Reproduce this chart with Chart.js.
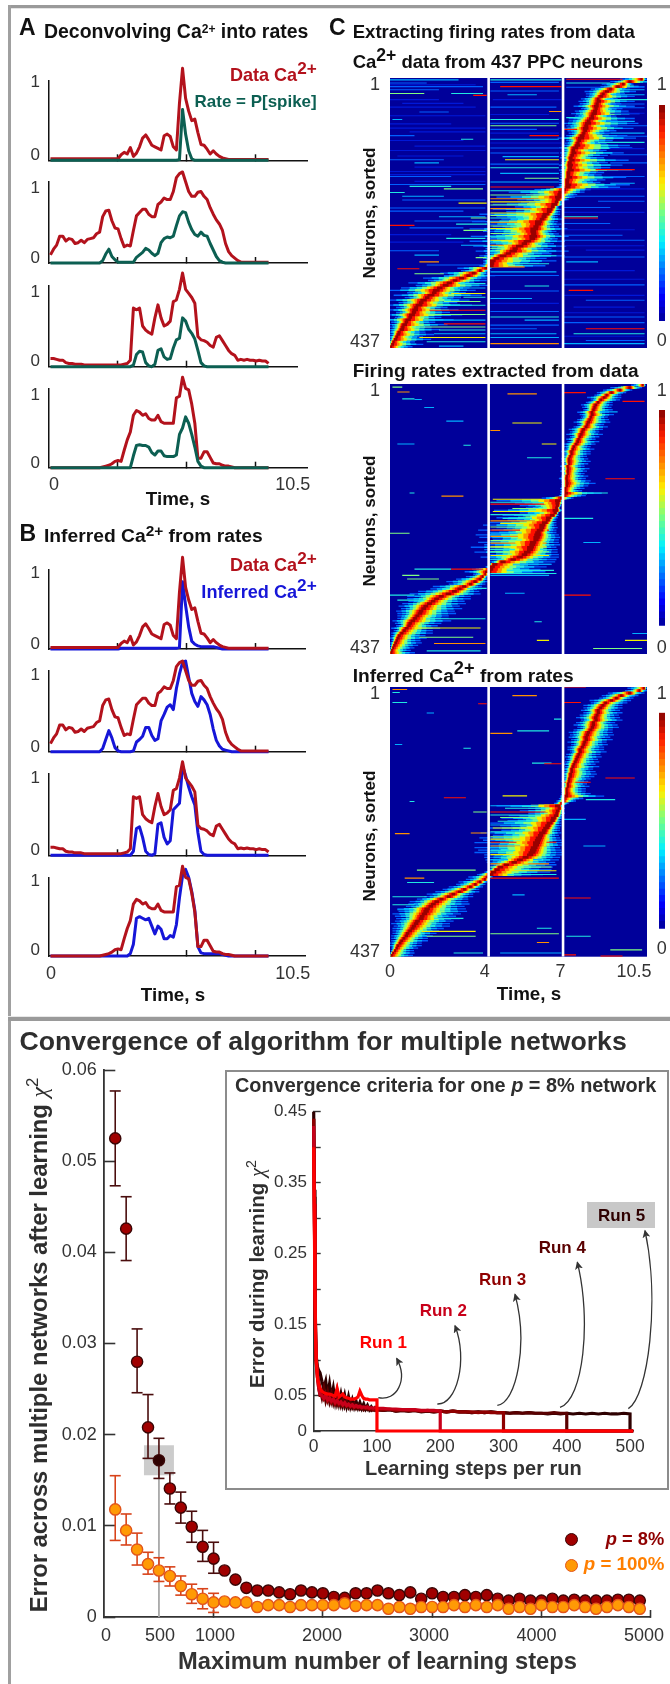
<!DOCTYPE html>
<html><head><meta charset="utf-8">
<style>
html,body{margin:0;padding:0;background:#fff;}
body{width:670px;height:1684px;position:relative;overflow:hidden;font-family:"Liberation Sans",Arial,sans-serif;}
.abs{position:absolute;}
.t{position:absolute;white-space:nowrap;line-height:1.1;z-index:5;}
.t sup{line-height:0;vertical-align:baseline;position:relative;top:-.42em;}
.chi{font-family:"Liberation Serif",serif;font-style:italic;font-weight:normal;}
</style>
<script src="https://cdn.jsdelivr.net/npm/chart.js@4"></script>
</head><body>
<script>
/* ---------- traces, panels A and B ---------- */
const timeS=[0,.125,.25,.375,.5,.625,.75,.875,1,1.125,1.25,1.375,1.5,1.625,1.75,1.875,2,2.125,2.25,2.375,2.5,2.625,2.75,2.875,3,3.125,3.25,3.375,3.5,3.625,3.75,3.875,4,4.125,4.25,4.375,4.5,4.625,4.75,4.875,5,5.125,5.25,5.375,5.5,5.625,5.75,5.875,6,6.125,6.25,6.375,6.5,6.625,6.75,6.875,7,7.125,7.25,7.375,7.5,7.625,7.75,7.875,8,8.125,8.25,8.375,8.5,8.625,8.75,8.875];
const ca1=[.02,.02,.02,.02,.02,.02,.02,.02,.02,.02,.02,.02,.02,.02,.02,.02,.02,.02,.02,.02,.02,.02,.02,.07,.10,.08,.16,.05,.09,.17,.28,.32,.26,.19,.17,.15,.13,.31,.33,.30,.17,.13,.72,1.16,.78,.62,.50,.52,.35,.20,.19,.14,.08,.12,.08,.05,.03,.02,.01,.01,.01,.01,.01,.01,.01,.01,.01,.01,.01,.01,.01,.01];
const ca2=[.10,.17,.22,.33,.33,.27,.30,.29,.24,.25,.28,.25,.29,.30,.31,.36,.38,.57,.64,.65,.52,.43,.42,.30,.20,.22,.21,.40,.58,.62,.66,.66,.60,.57,.57,.72,.75,.80,.78,.78,.88,1.05,1.10,1.12,1.0,.88,.82,.82,.87,.88,.82,.78,.68,.60,.53,.48,.40,.24,.14,.09,.06,.03,.01,.01,.01,.01,.01,.01,.01,.01,.01,.01];
const ca3=[.10,.10,.09,.08,.08,.05,.04,.04,.03,.03,.03,.02,.02,.02,.02,.02,.02,.02,.02,.02,.02,.02,.02,.02,.03,.04,.08,.72,.70,.72,.50,.45,.42,.40,.60,.76,.60,.50,.52,.56,.80,.82,.95,1.15,.95,.90,.85,.78,.37,.33,.32,.30,.26,.24,.36,.38,.32,.26,.20,.16,.14,.08,.09,.08,.09,.08,.08,.07,.08,.07,.07,.04];
const ca4=[0,0,0,0,0,0,0,0,0,0,0,0,0,0,0,0,0,.01,.02,.03,.05,.08,.09,.08,.22,.35,.45,.66,.72,.70,.66,.68,.62,.60,.60,.66,.58,.56,.56,.56,.56,.88,.90,1.14,1.0,.98,.80,.56,.12,.12,.20,.20,.13,.06,.05,.05,.03,.02,.02,.01,0,0,0,0,0,0,0,0,0,0,0,0];
const rate1=[0,0,0,0,0,0,0,0,0,0,0,0,0,0,0,0,0,0,0,0,0,0,0,0,0,0,0,0,0,0,0,0,0,0,0,0,0,0,0,0,0,0,.01,.64,.33,.12,.02,0,0,0,0,0,0,0,0,0,0,0,0,0,0,0,0,0,0,0,0,0,0,0,0,0];
const rate2=[0,0,0,0,0,0,0,0,0,0,0,0,0,0,0,0,0,.03,.11,.17,.08,.04,.01,.01,.01,.01,.01,.01,.07,.1,.13,.18,.16,.12,.09,.12,.25,.30,.32,.31,.33,.46,.58,.63,.62,.50,.41,.35,.33,.38,.34,.33,.24,.16,.08,.03,.01,0,0,0,0,0,0,0,0,0,0,0,0,0,0,0];
const rate3=[0,0,0,0,0,0,0,0,0,0,0,0,0,0,0,0,0,0,0,0,0,0,0,0,0,0,0,.02,.15,.19,.18,.05,.01,0,.03,.20,.22,.12,.09,.10,.23,.33,.35,.60,.56,.46,.41,.34,.20,.05,.01,0,0,0,0,0,0,0,0,0,0,0,0,0,0,0,0,0,0,0,0,0];
const rate4=[0,0,0,0,0,0,0,0,0,0,0,0,0,0,0,0,0,0,0,0,0,0,0,0,0,0,0,.15,.28,.29,.28,.28,.26,.19,.16,.21,.21,.15,.14,.14,.14,.16,.42,.50,.64,.56,.42,.26,.08,.02,0,0,0,0,0,0,0,0,0,0,0,0,0,0,0,0,0,0,0,0,0,0];
const inf1=[0,0,0,0,0,0,0,0,0,0,0,0,0,0,0,0,0,0,0,0,0,0,0,.01,.01,.01,.01,.01,.01,.01,.01,.01,.01,.01,.01,.01,.01,.01,.01,.01,.01,.01,.02,.85,.55,.28,.10,.06,.04,.03,.03,.03,.03,.03,.02,.01,0,0,0,0,0,0,0,0,0,0,0,0,0,0,0,0];
const inf2=[0,0,0,0,0,0,0,0,0,0,0,0,0,0,0,0,0,.04,.15,.26,.17,.05,.01,0,0,0,0,.01,.12,.15,.19,.30,.30,.2,.14,.16,.38,.46,.55,.58,.52,.78,.96,1.10,1.12,.92,.72,.62,.56,.68,.64,.58,.46,.28,.14,.07,.03,.02,.01,0,0,0,0,0,0,0,0,0,0,0,0,0];
const inf3=[0,0,0,0,0,0,0,0,0,0,0,0,0,0,0,0,0,0,0,0,0,0,0,0,0,0,0,.05,.33,.35,.22,.05,.01,0,.02,.38,.40,.22,.14,.18,.56,.60,.64,1.10,.98,.84,.72,.62,.28,.05,.01,0,0,0,0,0,0,0,0,0,0,0,0,0,0,0,0,0,0,0,0,0];
const inf4=[0,0,0,0,0,0,0,0,0,0,0,0,0,0,0,0,0,0,0,0,0,0,0,0,0,0,.03,.15,.48,.50,.48,.46,.48,.38,.28,.38,.34,.22,.22,.26,.24,.40,.74,1.02,1.10,1.00,.82,.58,.12,.04,.03,.03,.03,.03,.03,.03,.02,.01,0,0,0,0,0,0,0,0,0,0,0,0,0,0];

/* ---------- heat maps, panel C: row peaks, left/right spread, streaks ---------- */
const peakC1=[10.3,9.8,9.55,9.3,9.0,8.85,8.7,8.6,8.5,8.5,8.45,8.4,8.4,8.35,8.3,8.25,8.2,8.1,8.05,8.0,7.95,7.95,7.9,7.8,7.75,7.7,7.65,7.6,7.5,7.45,7.45,7.4,7.35,7.35,7.3,7.3,7.3,7.3,7.25,7.25,7.25,7.2,7.2,7.2,7.2,7.1,7.05,6.95,6.95,6.9,6.85,6.8,6.7,6.6,6.55,6.45,6.35,6.25,6.15,6.1,6.0,5.95,5.9,5.9,5.9,5.85,5.65,5.5,5.3,5.1,5.0,4.8,4.55,4.3,4.1,4.1,4.05,3.95,3.7,3.45,3.2,2.95,2.65,2.45,2.25,2.05,1.9,1.8,1.65,1.5,1.35,1.25,1.15,1.05,1.0,.95,.85,.8,.7,.65,.55,.5,.45,.35,.3,.25,.18,.12,.06,.02];
const leftC1=[.9,.8,.9,.7,.8,.9,.7,.6,.7,.8,.7,.9,.6,.8,.9,.7,.9,.8,1.0,.8,.9,.7,.6,.6,.9,.5,.5,.5,.6,.4,.5,.4,.4,.3,.3,.4,.3,.4,.3,.3,.3,.3,.3,.3,.4,1.2,2.2,1.4,2.6,1.7,1.5,2.6,1.6,2.4,1.8,2.8,2.0,1.7,2.8,2.2,1.8,2.7,2.1,1.7,2.6,1.9,2.4,1.5,1.9,1.2,1.5,.9,.9,.5,.3,.3,.4,1.2,.8,1.4,1.0,1.6,1.1,1.7,1.2,1.6,1.9,1.1,1.5,.9,1.4,.9,1.3,.8,1.1,.7,1.0,.6,.9,.6,.6,.5,.5,.4,.3,.3,.2,.2,.1,.1];
const rightC1=[.2,.9,.4,1.1,.8,1.2,.9,1.4,.8,1.5,1.0,1.6,1.1,1.4,1.9,1.0,1.8,1.2,2.1,1.3,2.0,1.3,1.1,1.9,2.3,1.4,1.2,2.2,2.4,1.4,2.1,1.5,1.4,2.4,1.6,2.2,1.7,2.6,1.5,1.4,2.4,1.6,1.4,2.6,2.2,1.1,.9,.7,.6,.4,.2,.3,.2,.4,.4,.5,.5,.8,.7,.9,.9,1.3,.9,1.0,1.4,1.0,1.5,1.2,1.9,1.5,2.3,1.8,2.6,2.1,2.7,2.0,2.3,.2,.4,.6,1.1,1.0,1.3,1.0,1.8,1.2,1.6,1.3,2.1,1.4,1.9,1.5,2.2,1.3,1.8,1.5,2.1,1.3,1.9,1.2,1.8,1.2,1.6,1.1,1.5,1.1,1.5,.9,1.3,.9];
const peakC2=[10.35,9.8,9.4,9.05,8.85,8.75,8.6,8.5,8.4,8.35,8.3,8.25,8.25,8.2,8.15,8.1,8.05,8.0,7.9,7.85,7.8,7.75,7.7,7.65,7.6,7.5,7.45,7.4,7.4,7.35,7.3,7.3,7.3,7.25,7.25,7.25,7.25,7.2,7.2,7.2,7.2,7.2,7.15,7.15,7.15,7.1,7.0,6.95,6.9,6.9,6.85,6.85,6.8,6.7,6.55,6.5,6.4,6.3,6.25,6.2,6.1,6.1,6.05,6.0,5.9,5.85,5.8,5.75,5.65,5.5,5.3,5.0,4.55,4.2,4.1,4.05,3.95,3.9,3.8,3.7,3.5,3.3,3.05,2.85,2.65,2.4,2.1,1.9,1.75,1.6,1.45,1.35,1.25,1.2,1.1,1.0,.9,.8,.75,.65,.55,.45,.35,.3,.25,.2,.15,.1,.05,.02];
const leftC2=[.5,.8,.7,.6,.5,.7,.4,.5,.6,.5,.4,.6,.5,.4,.5,.6,.4,.5,.6,.5,.6,.4,.5,.4,.5,.4,.3,.4,.3,.3,.3,.3,.2,.3,.2,.3,.2,.2,.3,.2,.2,.2,.2,.2,.2,.2,.8,2.6,1.8,1.6,1.3,2.6,1.5,2.1,2.2,1.7,2.4,2.5,1.9,2.6,2.1,2.6,2.4,1.8,2.3,2.0,2.5,1.9,2.2,1.5,1.6,1.0,.5,.2,.2,.7,.9,.5,.7,1.0,1.2,.9,1.3,1.2,1.5,1.6,1.4,1.2,1.0,1.1,1.1,.9,1.0,.9,.8,.7,.8,.6,.5,.6,.4,.4,.3,.3,.2,.2,.15,.1,.05,.02];
const rightC2=[.1,.5,.5,.6,.6,.7,.8,.6,.7,.7,.8,.7,.9,.7,.8,.9,.7,.9,.8,.7,.9,.8,.7,.9,.8,.7,.9,.8,.8,.7,.8,.9,.8,.7,.9,.8,.7,.9,.8,1.0,1.2,.9,.8,.7,1.5,.9,.5,.1,.2,.1,.1,.2,.1,.2,.3,.3,.4,.5,.6,.6,.7,.8,.9,.9,1.0,1.1,1.0,1.1,1.2,1.4,1.6,1.8,2.2,2.4,2.3,2.1,2.4,.2,.2,.3,.5,.6,.7,.9,1.0,1.3,1.2,1.4,1.3,1.5,1.4,1.6,1.4,1.5,1.3,1.4,1.6,1.3,1.2,1.4,1.2,1.3,1.1,1.2,1.0,1.1,1.0,.9,.8,1.0];
const peakC3=[10.4,10.2,9.8,9.45,9.25,9.05,8.8,8.7,8.6,8.5,8.5,8.45,8.4,8.4,8.3,8.3,8.25,8.2,8.1,8.05,8.0,8.0,7.95,7.9,7.85,7.75,7.75,7.7,7.65,7.6,7.55,7.5,7.45,7.4,7.4,7.35,7.35,7.3,7.3,7.25,7.25,7.2,7.2,7.2,7.15,7.1,7.1,7.0,6.95,6.95,6.9,6.85,6.85,6.75,6.7,6.6,6.5,6.45,6.35,6.3,6.2,6.15,6.1,6.05,6.0,5.95,5.9,5.85,5.75,5.55,5.3,5.05,4.7,4.45,4.3,4.15,4.05,4.0,3.9,3.7,3.5,3.3,3.05,2.85,2.6,2.4,2.1,1.9,1.75,1.65,1.5,1.45,1.4,1.3,1.25,1.1,1.05,.95,.9,.8,.7,.65,.55,.45,.4,.3,.25,.18,.1,.04];
const leftC3=[.7,.6,.9,.8,.7,.9,.6,.8,.7,.7,.6,.7,.8,.6,.7,.8,.6,.7,.8,.7,.7,.6,.7,.5,.6,.5,.4,.5,.5,.4,.4,.4,.3,.3,.3,.3,.3,.2,.3,.2,.2,.2,.2,.2,.2,.2,.3,.3,2.6,1.3,1.6,1.2,2.0,2.2,1.9,2.5,2.0,2.4,1.8,2.6,2.0,2.5,2.3,2.6,2.0,2.5,2.3,2.4,1.9,1.7,1.4,1.1,.6,.4,.3,.3,.5,.8,.8,.9,.8,.9,.9,1.0,1.1,1.0,1.0,1.1,1.0,1.0,1.2,1.1,1.3,1.1,1.0,.9,1.0,.8,.8,.7,.6,.6,.5,.4,.4,.3,.2,.15,.1,.03];
const rightC3=[.1,.3,.6,.7,.7,.8,.9,.8,.9,.9,1.0,.9,1.0,1.1,.9,1.0,1.1,.9,1.0,1.1,1.0,1.1,.9,1.0,.9,1.0,1.1,.9,1.0,.9,1.0,.9,1.1,.9,1.0,1.1,1.0,.9,.8,.8,.9,.8,.8,1.0,1.6,.8,.5,.3,.1,.2,.2,.3,.2,.3,.3,.4,.5,.5,.6,.7,.7,.8,.9,1.0,1.1,1.0,1.1,1.2,1.3,1.4,1.6,1.7,2.1,2.2,2.3,2.4,2.2,.2,.2,.3,.4,.5,.6,.8,.8,1.0,1.1,1.3,1.5,1.4,1.6,1.7,1.5,1.4,1.6,1.5,1.4,1.5,1.3,1.2,1.2,1.1,1.0,1.1,.9,1.0,.9,.8,.9,.9];
/* streak = [neuron, from s, to s, colour level] */
const streaksC1=[[4,0,2.8,2],[9,0,1.5,1],[15,0,3.8,1],[26,0,1.4,4],[26,2.5,3.8,3],[29,3.4,3.95,7],[36,0,2,0],[48,0,3.5,0],[56,1.2,2.4,1],[68,.1,.5,2],[82,0,3.9,0],[94,0,1,1],[100,2.9,3.4,3],[111,1,3.9,0],[127,.3,3,0],[138,1,2,2],[152,0,3.9,0],[160,0,2.5,1],[168,1,3.9,0],[176,.8,2.5,3],[180,2.2,3.8,4],[186,0,.6,3],[192,.5,2.2,2],[203,2.8,3.95,5],[211,0,3.9,1],[225,2,3.9,2],[227,3.3,3.95,4],[239,0,1,7],[237,2.7,3.95,3],[247,3,3.95,4],[260,2.3,3.9,3],[271,2.9,3.9,2],[287,1,2,2],[298,1.2,2,6],[291,3.5,3.95,4],[309,.3,1.2,7],[317,1,2.2,4],[333,2.5,3.9,3],[349,2.5,3.9,5],[362,2.2,3.7,4],[376,1.5,3.9,7],[398,2.2,3.9,7],[408,2,3.9,3],[414,1.8,3.9,2],[427,1.5,3.9,3],[434,2,3,2],
[12,0,3.5,0],[20,0,2,1],[42,.5,3,0],[62,0,3.9,0],[75,0,2.5,0],[88,.8,3.9,0],[102,0,3,0],[118,0,3.9,0],[133,0,2.2,1],[145,1,3.9,0],[157,0,3.9,0],[173,0,3.9,1],[198,.5,3.9,1],[216,0,3,1],[232,1,3.9,1],[243,.8,3,1],[254,0,2.5,0],[266,0,3,0],[280,0,2,1],[303,1.5,3.9,1],[322,2.2,3.9,2],[340,2.8,3.9,2],[355,3,3.9,3],[368,1.8,3.9,3],[383,1.5,3.9,4],[392,1,3.9,2],[403,1,3.9,4],[420,1.2,3.9,5],
[4,4.1,7,3],[15,4.5,7,7],[28,4.8,6,2],[36,4.2,7,0],[55,6.5,7,6],[68,4.1,6.9,3],[78,4.1,6.8,4],[84,4.1,6,1],[94,5.7,6.9,7],[106,4.1,7,0],[122,4.1,6.9,1],[133,4.7,6.9,5],[146,4.1,6.9,3],[163,5.5,6.9,4],[177,4.1,6.7,7],[183,4.1,6.8,3],[196,4.1,6.5,6],[206,4.1,6.6,4],[219,4.1,6.5,5],[227,4.1,6.5,3],[234,4.1,6.2,6],[244,4.1,5.8,5],[252,4.1,5.8,4],[263,4.1,5.5,5],[271,4.1,5.3,6],[276,4.1,5.2,4],[288,4.1,6.8,3],[295,4.2,5.4,4],[306,4.1,5.5,6],[314,4.1,6.8,2],[337,5.5,6.5,3],[357,4.1,5.8,2],[387,4.1,6.9,3],[392,5.5,6.9,2],[406,4.1,6,1],[414,4.1,6.8,2],[430,4.1,6.9,6],
[8,4.1,6.9,1],[22,4.1,6.9,1],[48,4.1,6.8,1],[60,4.1,6.5,0],[74,4.1,6.9,1],[90,4.1,6.9,0],[100,4.1,6.9,2],[114,4.1,6.9,1],[128,4.6,6.9,2],[140,4.1,6.9,1],[155,4.5,6.9,2],[169,4.1,6.9,2],[190,4.1,6.8,4],[201,4.1,6.7,5],[212,4.1,6.6,6],[223,4.1,6.6,4],[240,4.1,6.2,4],[258,4.1,6.5,3],[267,4.1,6.3,3],[282,4.1,6.5,2],[301,4.1,6.5,3],[320,4.1,6.9,1],[345,4.1,6.9,1],[365,4.1,6.9,0],[378,4.1,6.9,1],[400,4.1,6.9,1],[420,4.1,6.9,2],
[3,7.2,9.5,7],[9,7.2,9,3],[28,9,10.4,2],[36,8.7,10.5,3],[49,9,10.4,1],[65,7.2,8,3],[71,9,10,2],[84,7.1,8,7],[95,8.7,10.5,1],[105,8.5,10.4,3],[149,8.4,10,7],[138,9,10.5,1],[171,9,10,2],[192,7.1,10.4,1],[200,8.5,10.4,1],[225,7.1,8.5,3],[227,7.1,8.5,7],[246,7.1,10,0],[263,7.1,10.4,1],[279,8,10.4,0],[298,7.2,8.5,2],[326,7.1,10.4,0],[344,7.3,8.3,7],[360,8,10.4,1],[371,7.5,10,0],[387,7.1,10.4,1],[406,8,10.4,7],[414,7.5,10.4,3],[425,8,10.4,1],[430,7.1,10.4,2],
[16,7.2,10.4,1],[20,9.5,10.4,2],[43,9,10.4,1],[58,9,10.4,0],[78,9,10.5,1],[90,9,10.4,2],[115,9,10.4,0],[125,9,10.5,1],[160,9,10.4,1],[180,8,10.4,0],[210,7.1,9,1],[218,7.1,10.4,0],[236,7.1,9,1],[255,7.1,9.5,1],[272,7.1,10.4,0],[290,7.1,10.4,1],[312,7.1,10,0],[335,7.1,10.4,1],[352,7.1,10.4,0],[380,7.1,10.4,0],[396,7.1,10.4,1],[418,7.1,10.4,0]];
const streaksC2=[[6,.1,.5,4],[14,.3,.8,6],[25,.5,1,3],[26,1,1.3,2],[39,1.4,1.8,2],[61,2.3,3,2],[98,.3,1,2],[100,3,3.3,3],[177,.8,1,3],[182,2.1,3,6],[242,0,.8,4],[300,1,2.5,3],[300,2.5,3.95,7],[310,.5,1.2,4],[316,.7,2,4],[331,2.2,3.95,3],[342,0,1,3],[350,.3,1.5,3],[380,1,3.9,3],[395,.8,3.7,5],[410,1.2,3.4,4],[420,1.8,3.9,6],[432,1.5,3.7,3],
[17,4.8,6,6],[64,5,6.2,5],[76,4.1,4.5,6],[98,6.2,6.8,5],[120,5.6,6.6,3],[187,4.2,6.2,5],[195,4.1,6.6,7],[202,5,6.7,4],[218,4.6,6.5,3],[226,4.5,6.2,5],[237,4.1,6.5,7],[247,4.1,6.3,6],[264,4.1,6.4,5],[272,4.1,6.5,4],[307,4.1,6.8,3],[310,4.1,6.5,2],[339,4.7,5.5,2],[385,5.9,6.2,3],[415,6,6.5,5],
[192,4.1,6.6,3],[207,4.2,6.6,5],[212,4.1,6.7,3],[222,4.1,6.5,6],[232,4.1,6.4,4],[242,4.1,6.3,2],[254,4.1,6.3,4],[258,4.1,6.4,6],[268,4.1,6.3,3],[278,4.1,6.5,5],[284,4.1,6.2,3],[292,4.1,6.6,2],[302,4.1,6.7,3],
[15,7.1,8,7],[29,9.5,10.4,7],[46,8.6,9.3,2],[154,8.8,10,7],[177,8,8.9,3],[218,7.1,8.3,3],[257,7.9,8.6,2],[342,7.1,8.2,7],[404,9.9,10.5,2],[428,8.3,10.3,4],[415,9.6,10.5,5]];
const streaksC3=[[5,.1,.7,6],[10,.1,.4,3],[26,.1,.7,3],[28,3.6,3.95,7],[43,1.5,1.8,2],[94,.2,.5,2],[100,3,3.3,3],[180,2.2,3.1,7],[186,.8,1,3],[203,3.4,3.95,4],[237,3.3,3.95,6],[238,.2,.8,6],[297,1.1,3.5,4],[310,.6,1.4,6],[317,.7,1.8,3],[340,.1,1.5,3],[353,.1,1,3],[361,.3,1,2],[375,1.5,3,3],[396,1.3,3.5,5],[404,1.5,3.5,4],[431,2.6,3.8,3],
[15,5,6,6],[76,4.1,5,6],[72,5.2,6.5,3],[53,6.7,7,3],[124,5.8,6.6,3],[125,6.3,7,7],[177,4.6,5.6,5],[197,4.7,6.2,3],[203,4.1,6.8,7],[218,4.4,6.5,3],[229,4.2,6.5,5],[243,4.1,6,4],[252,4.1,6.8,7],[287,4.1,6.5,6],[298,4.2,6.8,5],[310,4.1,6.9,7],[337,5,5.5,2],[391,6,6.6,3],[400,4.1,6.9,4],[414,6,6.5,6],[431,4.5,7,2],
[193,4.1,6.5,2],[208,4.1,6.6,3],[212,4.5,6.7,4],[224,4.1,6.6,2],[235,4.1,6.4,3],[247,4.1,6.5,5],[258,4.1,6.4,6],[266,4.1,6.1,3],[272,4.1,6.2,5],[280,4.1,6.2,2],[292,4.1,6.6,4],[304,4.1,6.8,3],
[1,7.1,8,7],[26,7.1,7.8,7],[148,8.8,10,7],[155,7.1,8.2,7],[183,8,9.2,3],[215,7.1,8,2],[258,7.9,8.8,2],[342,7.1,8.2,7],[404,7.2,8.2,3],[426,9,10.3,4],[434,7.1,7.6,7],[436,8.6,9.5,7]];
const levelColors=['#0018d8','#0060ff','#00b0ff','#20e8e0','#80ff80','#f0f000','#ff9000','#ff1000','#9a0000'];
const bandFractions=[1,.78,.6,.46,.34,.25,.17,.08];
const bandThickness=[1.3,1.6,2.0,2.4,2.7,2.7,2.7,2.7];
const whiteLineTimes=[4.03,7.07];

/* ---------- convergence, main plot ---------- */
const maxSteps=[100,200,300,400,500,600,700,800,900,1000,1100,1200,1300,1400,1500,1600,1700,1800,1900,2000,2100,2200,2300,2400,2500,2600,2700,2800,2900,3000,3100,3200,3300,3400,3500,3600,3700,3800,3900,4000,4100,4200,4300,4400,4500,4600,4700,4800,4900];
const errP8=[.0525,.0426,.0280,.0208,.0172,.0141,.0120,.0099,.0077,.0064,.0051,.0041,.0032,.0029,.0029,.0027,.0025,.0029,.0027,.0026,.0022,.0021,.0026,.0026,.0029,.0026,.0024,.0027,.0020,.0026,.0022,.0022,.0024,.0022,.0024,.0020,.0018,.0020,.0018,.0018,.0020,.0018,.0019,.0018,.0018,.0018,.0019,.0019,.0018];
const errP100=[.0118,.0095,.0074,.0058,.0051,.0045,.0034,.0025,.0020,.0016,.0017,.0016,.0016,.0011,.0013,.0013,.0011,.0013,.0013,.0013,.0013,.0015,.0012,.0013,.0013,.0009,.0011,.0009,.0011,.0011,.0011,.0013,.0011,.0013,.0011,.0013,.0009,.0011,.0009,.0013,.0011,.0011,.0013,.0011,.0009,.0011,.0013,.0011,.0009];
const hiP8=[.0577,.0461,.0316,.0244,.0196,.0158,.0137,.0116,.0095,.0082];
const loP8=[.0473,.0391,.0246,.0174,.0152,.0124,.0103,.0082,.0061,.0048];
const hiP100=[.0155,.0113,.0092,.0071,.0065,.0055,.0045,.0036,.0031,.0026];
const loP100=[.0084,.0079,.0057,.0047,.0039,.0034,.0024,.0015,.0009,.0005];
const mainXTicks=[1000,2000,3000,4000,5000];
const mainXLabels=[['0',15],['500',510],['1000',1013],['2000',1993],['3000',2971],['4000',3955],['5000',4938]];
const mainYTicks=[0,.01,.02,.03,.04,.05,.06];

/* ---------- convergence, inset ---------- */
const runSteps=[0,1,2,3,4,6,8,10,13,16,19,22,25,28,31,34,37,40,43,46,49,52,55,58,61,64,67,70,73,76,79,82,85,88,91,94,97,100,110,120,130,140,150,160,170,180,190,200,210,220,230,240,250,260,270,280,290,300,310,320,330,340,350,360,370,380,390,400,410,420,430,440,450,460,470,480,490,500];
const run1=[.40,.30,.19,.13,.10,.075,.066,.060,.056,.054,.053,.052,.052,.051,.050,.049,.060,.048,.05,.052,.048,.047,.046,.045,.045,.045,.046,.048,.056,.050,.046,.045,.045,.044,.044,.044,.044,.044];
const run2=[.43,.32,.2,.14,.10,.075,.06,.052,.05,.046,.05,.044,.047,.042,.045,.040,.043,.039,.041,.037,.04,.036,.038,.035,.037,.034,.036,.034,.035,.033,.034,.033,.034,.032,.033,.032,.033,.032,.032,.031,.031,.03,.03,.03,.029,.029,.029,.028];
const run3=[.44,.32,.2,.13,.095,.075,.06,.05,.05,.045,.05,.042,.046,.04,.044,.038,.042,.037,.04,.036,.038,.035,.037,.034,.036,.033,.035,.033,.034,.032,.033,.032,.032,.031,.032,.03,.031,.03,.03,.031,.029,.03,.029,.029,.028,.029,.028,.028,.027,.028,.027,.027,.027,.026,.027,.026,.026,.026];
const run4=[.44,.33,.2,.13,.1,.08,.07,.06,.048,.06,.044,.055,.042,.052,.04,.05,.038,.046,.036,.044,.035,.042,.034,.04,.033,.038,.032,.036,.031,.034,.03,.033,.03,.032,.029,.031,.029,.03,.029,.03,.028,.029,.028,.029,.028,.028,.027,.028,.027,.028,.027,.027,.026,.027,.026,.027,.026,.026,.025,.026,.025,.026,.025,.025,.025,.026,.025,.025];
const run5=[.45,.34,.21,.14,.105,.09,.085,.082,.07,.06,.07,.05,.066,.046,.06,.042,.056,.04,.052,.038,.05,.036,.048,.035,.044,.034,.042,.033,.04,.032,.038,.031,.036,.03,.034,.03,.033,.03,.029,.03,.028,.029,.028,.029,.027,.028,.027,.028,.027,.028,.027,.027,.026,.027,.026,.027,.026,.026,.025,.026,.025,.026,.025,.025,.024,.025,.024,.025,.024,.025,.024,.025,.024,.025,.024,.024,.025,.024];
const runColors=['#ff0000','#c8001a','#8f0000','#5a0000','#2e0000'];
const insetXTicks=[0,100,200,300,400,500];
const insetYTicks=[0,.05,.1,.15,.2,.25,.3,.35,.4,.45];

/* ---------- helpers ---------- */
Chart.defaults.font.family='"Liberation Sans",Arial,sans-serif';
Chart.defaults.animation=false;
Chart.defaults.devicePixelRatio=1;
const INK='#333';
function mount(r,pad,cfg){
  const c=document.createElement('canvas');
  const L=Math.floor(r.l-pad.l),T=Math.floor(r.t-pad.t);
  const W=Math.ceil(r.r+pad.r)-L,H=Math.ceil(r.b+pad.b)-T;
  const padL=r.l-L,padT=r.t-T,padR=W-(r.r-L),padB=H-(r.b-T);
  c.width=W;c.height=H;c.className='abs';
  c.style.cssText=`position:absolute;left:${L}px;top:${T}px;width:${W}px;height:${H}px;z-index:${cfg.z||1}`;
  document.body.appendChild(c);
  cfg.options=cfg.options||{};
  Object.assign(cfg.options,{responsive:false,maintainAspectRatio:false,animation:false,
    events:[],layout:{padding:{left:0,bottom:0,top:padT,right:padR}}});
  cfg.options.plugins=Object.assign({legend:{display:false},tooltip:{enabled:false},title:{display:false}},cfg.options.plugins||{});
  const sx=cfg.options.scales.x,sy=cfg.options.scales.y;
  if(sx)sx.afterFit=s=>{s.height=padB};
  if(sy)sy.afterFit=s=>{s.width=padL};
  return new Chart(c,cfg);
}
function text(html,x,y,o={}){
  const d=document.createElement('div');d.className='t';d.innerHTML=html;
  const size=o.size||18;
  d.style.fontSize=size+'px';d.style.color=o.color||'#111';d.style.fontWeight=o.weight||'bold';
  document.body.appendChild(d);
  if(o.w){d.style.fontSize=(size*o.w/d.offsetWidth)+'px';}
  if(o.rot){d.style.left=x+'px';d.style.top=y+'px';d.style.transform='translate(-50%,-50%) rotate(-90deg)';}
  else if(o.anchor==='right'){d.style.right=(670-x)+'px';d.style.top=y+'px';d.style.transform='translateY(-50%)';}
  else if(o.anchor==='center'){d.style.left=x+'px';d.style.top=y+'px';d.style.transform='translate(-50%,-50%)';}
  else{d.style.left=x+'px';d.style.top=y+'px';d.style.transform='translateY(-50%)';}
  return d;
}
function box(l,t,w,h,bg){const d=document.createElement('div');d.className='abs';
  d.style.cssText=`position:absolute;left:${l}px;top:${t}px;width:${w}px;height:${h}px;background:${bg}`;document.body.appendChild(d);return d;}

/* ---------- frame ---------- */
box(8,5,662,3,'#9a9a9a');box(8,5,3,1679,'#a0a0a0');box(11,8,659,1,'#e4e4e4');
box(8,1016,662,1,'#e8e8e8');box(8,1017,662,4,'#9a9a9a');

/* ---------- panels A, B ---------- */
const PXS=24.57;
const panels=[
 {top:81,base:160.3,right:307,one:82,zero:155,first:ca1,over:rate1,overColor:'#0c5f52',overTop:true},
 {top:181.7,base:263,right:307,one:188,zero:258,first:ca2,over:rate2,overColor:'#0c5f52',overTop:true},
 {top:285.3,base:366.7,right:297,one:292,zero:361,first:ca3,over:rate3,overColor:'#0c5f52',overTop:true},
 {top:388.3,base:467.7,right:307,one:395,zero:463,first:ca4,over:rate4,overColor:'#0c5f52',overTop:true,labels:true},
 {top:570,base:649,right:305.7,one:573,zero:644,first:ca1,over:inf1,overColor:'#1616d8'},
 {top:670.7,base:751.7,right:305.7,one:675,zero:747.7,first:ca2,over:inf2,overColor:'#1616d8'},
 {top:774,base:855.3,right:305.7,one:778,zero:850.7,first:ca3,over:inf3,overColor:'#1616d8'},
 {top:877.3,base:956,right:305.7,one:881.7,zero:950.7,first:ca4,over:inf4,overColor:'#1616d8',labels:true,zeroLabel:.08}
];
const timeMarks=[2.8,5.6,8.4];
panels.forEach(p=>{
  const toPts=a=>a.map((v,i)=>({x:timeS[i]+.06,y:v}));
  const labelTicks=p.labels?[{value:p.zeroLabel!==undefined?p.zeroLabel:.2,lab:'0'},{value:9.92,lab:'10.5'}]:[];
  const v=y=>(p.base-y)/(p.base-p.top);
  mount({l:49,t:p.top,r:p.right,b:p.base},{l:30,t:21,r:33,b:34},{type:'scatter',
    data:{datasets:[
      {data:toPts(p.first),showLine:true,pointRadius:0,borderColor:'#b3121c',borderWidth:3,borderJoinStyle:'round',clip:false,order:p.overTop?2:1},
      {data:toPts(p.over),showLine:true,pointRadius:0,borderColor:p.overColor,borderWidth:3,borderJoinStyle:'round',clip:false,order:p.overTop?1:2}
    ]},
    options:{scales:{
      x:{type:'linear',min:0,max:(p.right-49)/PXS,
        afterBuildTicks:s=>{s.ticks=timeMarks.map(value=>({value})).concat(labelTicks.map(t=>({value:t.value})));},
        border:{display:true,color:'#111',width:1.5},
        grid:{drawOnChartArea:false,tickLength:-6,tickWidth:1.5,tickColor:c=>(c.tick&&timeMarks.includes(c.tick.value))?'#111':'rgba(0,0,0,0)'},
        ticks:{autoSkip:false,maxRotation:0,padding:13,color:INK,font:{size:18},
          callback:val=>{const t=labelTicks.find(k=>k.value===val);return t?t.lab:'';}}},
      y:{type:'linear',min:0,max:1,
        afterBuildTicks:s=>{s.ticks=[{value:v(p.zero)},{value:v(p.one)}];},
        border:{display:true,color:'#111',width:1.5},
        grid:{drawOnChartArea:false,drawTicks:false},
        ticks:{autoSkip:false,padding:9,color:INK,font:{size:17},callback:val=>val<.5?'0':'1'}}
    }}});
});

/* ---------- panel C heat maps ---------- */
const heatBg={id:'heatBg',beforeDatasetsDraw(ch){const a=ch.chartArea;ch.ctx.save();ch.ctx.fillStyle='#00009a';ch.ctx.fillRect(a.left,a.top,a.right-a.left,a.bottom-a.top);ch.ctx.restore();}};
function heat(r,peak,left,right,streaks,oneY,botY,withX){
  const nPerPx=436/(r.b-r.t);
  const rows=peak.length;
  const ds=[];
  levelColors.forEach((col,L)=>{
    const pts=[];
    streaks.filter(s=>s[3]===L).forEach(s=>{pts.push({x:s[1],y:s[0]},{x:s[2],y:s[0]},{x:s[2],y:null});});
    if(pts.length)ds.push({data:pts,showLine:true,spanGaps:false,pointRadius:0,borderColor:col,borderWidth:1.1,borderCapStyle:'butt',order:150-L});
  });
  bandFractions.forEach((f,b)=>{
    const pts=[];
    for(let i=0;i<rows;i++){
      const n=1+(i+.5)*436/rows;
      pts.push({x:peak[i]-left[i]*f,y:n},{x:peak[i]+right[i]*f,y:n},{x:peak[i],y:null});
    }
    ds.push({data:pts,showLine:true,spanGaps:false,pointRadius:0,borderColor:levelColors[b+1],borderWidth:bandThickness[b],borderCapStyle:'butt',order:b<4?200-b:100-b});
  });
  whiteLineTimes.forEach(t=>ds.push({data:[{x:t,y:1},{x:t,y:437}],showLine:true,pointRadius:0,borderColor:'#fff',borderWidth:2.6,order:1}));
  const xLab=[{value:0,lab:'0'},{value:3.87,lab:'4'},{value:6.97,lab:'7'},{value:9.97,lab:'10.5'}];
  mount(r,{l:48,t:22,r:24,b:withX?28:22},{type:'scatter',data:{datasets:ds},plugins:[heatBg],
    options:{scales:{
      x:{type:'linear',min:0,max:10.5,display:true,
        afterBuildTicks:s=>{s.ticks=withX?xLab.map(t=>({value:t.value})):[];},
        border:{display:false},grid:{display:false,drawTicks:false},
        ticks:{display:withX,autoSkip:false,maxRotation:0,padding:5,color:INK,font:{size:18},
          callback:val=>{const t=xLab.find(k=>k.value===val);return t?t.lab:'';}}},
      y:{type:'linear',min:1,max:437,reverse:true,
        afterBuildTicks:s=>{s.ticks=[{value:1+(oneY-r.t)*nPerPx},{value:1+(botY-r.t)*nPerPx}];},
        border:{display:false},grid:{display:false,drawTicks:false},
        ticks:{autoSkip:false,padding:10,color:INK,font:{size:18},callback:val=>val<200?'1':'437'}}
    }}});
}
heat({l:390,t:78,r:647,b:348},peakC1,leftC1,rightC1,streaksC1,84.7,341.7,false);
heat({l:390,t:384,r:647,b:654},peakC2,leftC2,rightC2,streaksC2,391,647.7,false);
heat({l:390,t:687,r:647,b:956.7},peakC3,leftC3,rightC3,streaksC3,694,951.7,true);

/* colour bars */
const jetStops=[[0,0,0,154],[.11,0,0,255],[.36,0,240,255],[.5,120,255,130],[.63,255,240,0],[.87,255,30,0],[1,125,0,0]];
const barEdges=[0,.03,.06,.09,.12,.15,.18,.21,.24,.27,.3,.33,.36,.39,.42,.45,.48,.51,.54,.57,.6,.63,.66,.69,.72,.75,.78,.81,.84,.87,.9,.93,.96,1];
function jet(v){let i=0;while(i<jetStops.length-2&&v>jetStops[i+1][0])i++;const a=jetStops[i],b=jetStops[i+1],f=(v-a[0])/(b[0]-a[0]);
  return `rgb(${[1,2,3].map(k=>Math.round(a[k]+(b[k]-a[k])*f)).join(',')})`;}
function colorbar(t,b){
  const ds=barEdges.slice(0,-1).map((e,i)=>({data:[[e,Math.min(1,barEdges[i+1]+.004)]],backgroundColor:jet(e+.015),borderWidth:0,barPercentage:1,categoryPercentage:1,grouped:false}));
  mount({l:659,t,r:665,b},{l:0,t:0,r:0,b:0},{type:'bar',data:{labels:[''],datasets:ds},
    options:{scales:{x:{display:false},y:{display:false,min:0,max:1}}}});
}
colorbar(105,321);colorbar(410,625.7);colorbar(712.7,928.7);

/* ---------- main convergence plot ---------- */
function errBars(hi,lo,color,ord){return hi.map((h,i)=>({type:'scatter',showLine:true,data:[{x:maxSteps[i],y:lo[i]},{x:maxSteps[i],y:h}],
  borderColor:color,borderWidth:1.6,pointStyle:'line',pointRadius:5.5,pointBorderColor:color,pointBorderWidth:1.6,clip:false,order:ord}));}
mount({l:104.3,t:1070,r:650.7,b:1617},{l:60,t:31,r:37,b:60},{type:'scatter',data:{datasets:[
  {data:[{x:500,y:.0172}],pointStyle:'rect',pointRadius:21.2,pointBackgroundColor:'#cccccc',pointBorderWidth:0,order:60},
  {data:[{x:500,y:0},{x:500,y:.0172}],showLine:true,pointRadius:0,borderColor:'#a8a8a8',borderWidth:1.8,order:59},
  ...errBars(hiP8,loP8,'#4a0d0d',50),
  {data:maxSteps.map((x,i)=>({x,y:errP8[i]})),pointRadius:5.6,pointBorderWidth:1.4,pointBorderColor:'#3a0606',
    pointBackgroundColor:c=>c.dataIndex===4?'#2e0000':'#a00000',clip:false,order:40},
  ...errBars(hiP100,loP100,'#d8431a',30),
  {data:maxSteps.map((x,i)=>({x,y:errP100[i]})),pointRadius:5.6,pointBorderWidth:1.4,pointBorderColor:'#e2541a',pointBackgroundColor:'#ff9a05',clip:false,order:20}
]},options:{scales:{
  x:{type:'linear',min:0,max:5000,afterBuildTicks:s=>{s.ticks=mainXTicks.map(value=>({value})).concat(mainXLabels.map(l=>({value:l[1]})));},
    border:{display:true,color:INK,width:1.8},
    grid:{drawOnChartArea:false,tickLength:-7,tickWidth:1.6,tickColor:c=>(c.tick&&mainXTicks.includes(c.tick.value))?INK:'rgba(0,0,0,0)'},
    ticks:{autoSkip:false,maxRotation:0,padding:15,color:INK,font:{size:18},callback:v=>{const l=mainXLabels.find(k=>k[1]===v);return l?l[0]:'';}},
    title:{display:true,text:'Maximum number of learning steps',color:INK,font:{size:23.7,weight:'bold'},padding:0}},
  y:{type:'linear',min:0,max:.06,afterBuildTicks:s=>{s.ticks=mainYTicks.map(value=>({value}));},
    border:{display:true,color:INK,width:1.8},grid:{drawOnChartArea:false,tickLength:-11,tickWidth:1.6,tickColor:INK},
    ticks:{autoSkip:false,padding:18.6,color:INK,font:{size:18},callback:v=>v===0?'0':v.toFixed(2)}}
}}});

/* ---------- inset ---------- */
const insetBox=box(224.5,1070,440,416,'#fff');
insetBox.style.border='2px solid #8c8c8c';insetBox.style.zIndex=2;
function runData(a){const pts=a.map((v,i)=>({x:runSteps[i],y:v}));const last=runSteps[a.length-1];pts.push({x:last,y:0},{x:505,y:0});return pts;}
const runs=[run5,run4,run3,run2,run1];
mount({l:313.7,t:1111.7,r:633,b:1431},{l:60,t:26,r:24,b:50},{z:3,type:'scatter',data:{datasets:
  runs.map((a,i)=>({data:runData(a),showLine:true,pointRadius:0,borderColor:runColors[4-i],borderWidth:3.2,borderJoinStyle:'miter',clip:false,order:10-i}))
},options:{scales:{
  x:{type:'linear',min:0,max:504.7,afterBuildTicks:s=>{s.ticks=insetXTicks.map(value=>({value}));},
    border:{display:true,color:INK,width:1.6},grid:{drawOnChartArea:false,drawTicks:false},
    ticks:{autoSkip:false,maxRotation:0,padding:6,color:INK,font:{size:17.5},callback:v=>String(v)},
    title:{display:true,text:'Learning steps per run',color:INK,font:{size:20,weight:'bold'},padding:0}},
  y:{type:'linear',min:0,max:.45,afterBuildTicks:s=>{s.ticks=insetYTicks.map(value=>({value}));},
    border:{display:true,color:INK,width:1.6},grid:{drawOnChartArea:false,tickLength:-7,tickWidth:1.4,tickColor:INK},
    ticks:{autoSkip:false,padding:13.7,color:INK,font:{size:17},
      callback:v=>{const s=v.toFixed(2);return v===0?'0':(['0.45','0.35','0.25','0.15','0.05'].includes(s)?s:'');}}}
}}});

/* arrows */
const svgNS='http://www.w3.org/2000/svg';
const holder=document.createElement('div');
holder.style.cssText='position:absolute;left:0;top:0;width:670px;height:1684px;z-index:4;pointer-events:none';
holder.innerHTML=`<svg xmlns="${svgNS}" width="670" height="1684" viewBox="0 0 670 1684">
<defs><marker id="ah" markerWidth="27" markerHeight="24" refX="21" refY="12" orient="auto" markerUnits="userSpaceOnUse"><path d="M0,0 L24,12 L0,24 L6,12 Z" fill="#333"/></marker></defs>
<g transform="translate(220,1060) scale(.33333)" fill="none" stroke="#333" stroke-width="3.9">
<path marker-end="url(#ah)" d="M475 1013 C530 1025,565 960,530 895"/>
<path marker-end="url(#ah)" d="M652 1032 C710 1035,745 900,705 797"/>
<path marker-end="url(#ah)" d="M832 1036 C890 1030,925 850,885 703"/>
<path marker-end="url(#ah)" d="M1020 1042 C1090 1020,1115 780,1072 607"/>
<path marker-end="url(#ah)" d="M1225 1046 C1285 1010,1320 720,1275 512"/>
</g></svg>`;
document.body.appendChild(holder);

/* ---------- text ---------- */
const RED='#b3121c',TEAL='#0c5f52',BLUE='#1616d8';
const smallSup='<sup style="font-size:.62em">2+</sup>';
const bigSup='<sup style="font-size:.95em">2+</sup>';
text('A',19,28,{size:23});
text('Deconvolving Ca'+smallSup+' into rates',44,32,{size:19,w:264});
text('Data Ca'+bigSup,316.7,76,{anchor:'right',size:16,w:87,color:RED});
text('Rate = P[spike]',316.7,101.7,{anchor:'right',size:16,w:122,color:TEAL});
text('Time, s',178,499,{anchor:'center',size:18.8});
text('B',19.5,533.5,{size:23});
text('Inferred Ca'+bigSup.replace('.95em','.8em')+' from rates',44,536,{size:19,w:219});
text('Data Ca'+bigSup,316.7,566,{anchor:'right',size:16,w:87,color:RED});
text('Inferred Ca'+bigSup,316.7,593,{anchor:'right',size:16,w:115.7,color:BLUE});
text('Time, s',173,995,{anchor:'center',size:18.8});
text('C',329,28,{size:23});
text('Extracting firing rates from data',352.7,32,{size:19,w:282});
text('Ca'+bigSup+' data from 437 PPC neurons',352.7,62,{size:18,w:291});
text('Firing rates extracted from data',352.7,370.7,{size:19,w:286});
text('Inferred Ca'+bigSup+' from rates',352.7,676,{size:19,w:221});
text('Neurons, sorted',370,213,{rot:true,size:17,w:130.7});
text('Neurons, sorted',370,520.7,{rot:true,size:17,w:130.7});
text('Neurons, sorted',370,836,{rot:true,size:17,w:130.7});
text('Time, s',529,994,{anchor:'center',size:18.8});
[[85,341],[391,647.7],[694,949]].forEach(p=>{
  text('1',661.7,p[0],{anchor:'center',size:18,weight:'normal',color:INK});
  text('0',661.7,p[1],{anchor:'center',size:18,weight:'normal',color:INK});
});
text('Convergence of algorithm for multiple networks',19.5,1042,{size:24,w:608,color:'#2e2e2e'});
text('Error across multiple networks after learning <span class="chi">χ</span><sup style="font-size:.7em;font-weight:normal;top:-.55em">2</sup>',39,1345,{rot:true,size:22,w:535,color:'#2e2e2e'});
text('Convergence criteria for one <i>p</i> = 8% network',235,1086,{size:18,w:422,color:'#2e2e2e'}).style.zIndex=6;
text('Error during learning <span class="chi">χ</span><sup style="font-size:.7em;font-weight:normal;top:-.55em">2</sup>',256.7,1274,{rot:true,size:18,w:228,color:'#2e2e2e'});
const runGrey=box(587.3,1201.7,68,26,'#c8c8c8');runGrey.style.zIndex=4;
[['Run 1',383.3,1343.3],['Run 2',443.3,1310.7],['Run 3',502.7,1280],['Run 4',562.3,1248.3],['Run 5',621.7,1216]].forEach((r,i)=>{
  text(r[0],r[1],r[2],{anchor:'center',size:16,w:46.7,color:runColors[i]});
});
/* legend */
function dot(x,y,fill,stroke){const d=box(x-6.5,y-6.5,11,11,fill);d.style.border='1.5px solid '+stroke;d.style.borderRadius='50%';d.style.zIndex=5;}
dot(571.7,1539.3,'#a00000','#3a0606');dot(571.7,1565,'#ff9a05','#e2541a');
text('<i>p</i> = 8%',664.3,1539,{anchor:'right',size:18,w:59,color:'#8f0000'});
text('<i>p</i> = 100%',664.3,1564,{anchor:'right',size:18,w:81,color:'#ff7f00'});
</script>
</body></html>
